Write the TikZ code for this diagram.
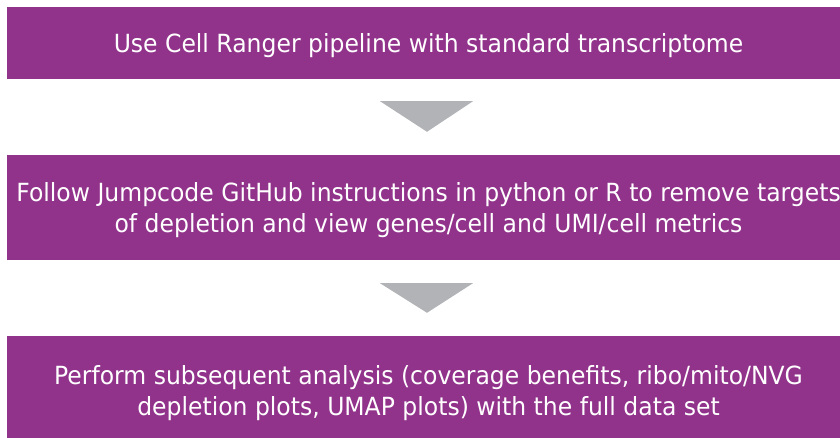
\documentclass[tikz,border=0pt]{standalone}
\usepackage{fontspec}
\setmainfont{DejaVu Sans}[FakeStretch=0.94]
\usepackage{tikz}
\usetikzlibrary{calc,positioning}
\definecolor{stepviolet}{RGB}{145,50,139}
\definecolor{arrowgray}{RGB}{177,179,182}
\tikzset{
  stepbox/.style={fill=stepviolet,text=white,align=center,inner sep=0pt,
    text depth=0pt,minimum width=843pt,font=\fontsize{25}{31}\selectfont},
  downarrow/.style={fill=arrowgray}
}

\begin{document}
\begin{tikzpicture}[x=1pt,y=-1pt]
\useasboundingbox (0,0) rectangle (840,438);
\node[stepbox,minimum height=72pt] (ranger) at (428.5,43) {Use Cell Ranger pipeline with standard transcriptome};
\node[stepbox,minimum height=105pt] (jumpcode) at (428.5,207.5) {Follow Jumpcode GitHub instructions in python or R to remove targets\\of depletion and view genes/cell and UMI/cell metrics};
\node[stepbox,minimum height=109pt] (analysis) at (428.5,390.5) {Perform subsequent analysis (coverage benefits, ribo/mito/NVG\\depletion plots, UMAP plots) with the full data set};
% arrows between the steps
\fill[downarrow] ($(ranger.south)+(-48.5,22)$) -- ++(93,0) -- ($(jumpcode.north)+(-1.5,-23)$) -- cycle;
\fill[downarrow] ($(jumpcode.south)+(-48.5,23)$) -- ++(93,0) -- ($(analysis.north)+(-1.5,-23)$) -- cycle;
\end{tikzpicture}
\end{document}
